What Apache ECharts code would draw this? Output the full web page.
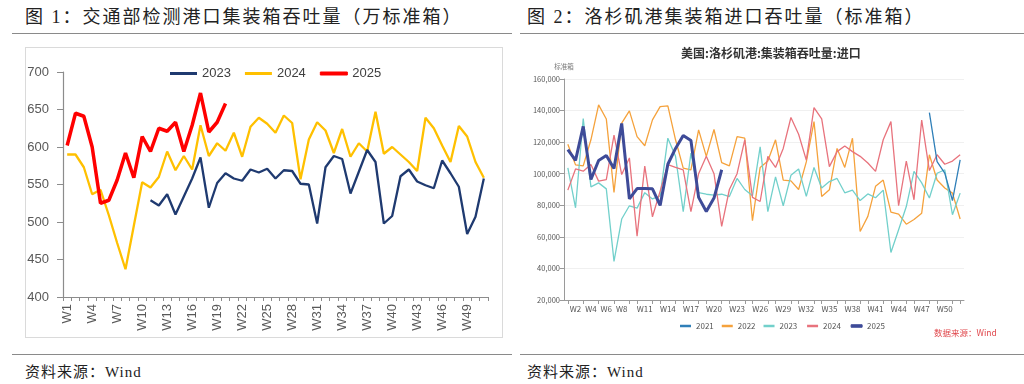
<!DOCTYPE html>
<html>
<head>
<meta charset="utf-8">
<script src="https://cdn.jsdelivr.net/npm/echarts@6/dist/echarts.min.js"></script>
<style>
  body { margin: 0; background: #fff; }
  #wrap { position: relative; width: 1024px; height: 384px; background: #fff; overflow: hidden; }
  .t { position: absolute; font-family: "Liberation Serif", "Noto Sans CJK SC", serif; font-size: 18px; line-height: 24px; letter-spacing: 2px; color: #222; white-space: nowrap; }
  .s { position: absolute; font-family: "Liberation Serif", "Noto Sans CJK SC", serif; font-size: 15px; line-height: 20px; letter-spacing: 1px; color: #222; white-space: nowrap; }
  .hl { position: absolute; height: 0; border-top: 1.5px solid #8a8a8a; }
  .box { position: absolute; border: 1px solid #dadada; box-sizing: border-box; }
  #chart { position: absolute; left: 0; top: 0; width: 1024px; height: 384px; }
</style>
</head>
<body>
<div id="wrap">
  <div class="t" style="left:25px;top:5px">图 1：交通部检测港口集装箱吞吐量（万标准箱）</div>
  <div class="t" style="left:527px;top:5px">图 2：洛杉矶港集装箱进口吞吐量（标准箱）</div>
  <div class="hl" style="left:12px;top:33px;width:500px"></div>
  <div class="hl" style="left:520px;top:33px;width:504px"></div>
  <div class="box" style="left:25px;top:47px;width:478px;height:291px"></div>
  <div class="hl" style="left:12px;top:354px;width:500px"></div>
  <div class="hl" style="left:520px;top:354px;width:504px"></div>
  <div class="s" style="left:25px;top:362px">资料来源：Wind</div>
  <div class="s" style="left:527px;top:362px">资料来源：Wind</div>
  <div id="chart"></div>
</div>
<script>
// ---------- Figure 1: weekly port container throughput (10k TEU) ----------
const weeks1 = [];
for (let i = 1; i <= 51; i++) weeks1.push('W' + i);

const port2023 = [null, null, null, null, null, null, null, null, null, null,
  529, 522, 537, 510, 534, 558, 586, 519, 552, 565,
  558, 555, 570, 566, 571, 558, 569, 568, 551, 550,
  498, 573, 588, 584, 538, 567, 596, 580, 498, 508,
  561, 570, 554, 549, 545, 582, 565, 547, 484, 507, 558];

const port2024 = [590, 590, 573, 537, 543, 509, 472, 437, 495, 553,
  546, 560, 594, 569, 588, 570, 629, 588, 605, 595,
  619, 587, 627, 639, 631, 619, 642, 632, 557, 610,
  633, 622, 592, 624, 587, 605, 594, 647, 591, 600,
  590, 580, 568, 639, 625, 602, 580, 628, 614, 580, 559];

const port2025 = [602, 645, 641, 600, 525, 529, 556, 592, 559, 614,
  594, 625, 621, 633, 594, 629, 672, 620, 633, 658];

const yTicks1 = { min: 400, max: 700, step: 50 };

// ---------- Figure 2: Port of Los Angeles container imports (TEU) ----------
const weeks2 = [];
for (let i = 1; i <= 52; i++) weeks2.push('W' + i);

const la2021 = [null, null, null, null, null, null, null, null, null, null,
  null, null, null, null, null, null, null, null, null, null,
  null, null, null, null, null, null, null, null, null, null,
  null, null, null, null, null, null, null, null, null, null,
  null, null, null, null, null, null, null,
  138700, 107700, 100400, 83000, 108800];

const la2022 = [118700, 105600, 105000, 121500, 143600, 134700, 88200, 132000, 139800, 123500,
  117700, 134100, 142500, 143000, 121500, 103500, 102500, 127800, 111000, 128000,
  107000, 105000, 123500, 122500, 70200, 104000, 108000, 121500, 96000, 95500,
  90000, 107500, 133000, 85600, 89800, 116000, 104000, 122500, 63400, 73000,
  92000, 96000, 75700, 74400, 68000, 71000, 75000, 112000, 96000, 91000, 87700, 71300];

const la2023 = [103700, 78400, 135000, 91700, 94200, 90400, 44500, 71300, 79700, 78200,
  88000, 84000, 86000, 122500, 111000, 76000, 113000, 88000, 87000, 86500,
  87000, 85500, 97000, 90000, 86000, 117000, 76000, 98000, 79700, 99000,
  103000, 85600, 104000, 91000, 95000, 97000, 87900, 89600, 83000, 87200,
  84800, 89600, 50100, 64500, 79200, 101500, 94200, 84600, 100300, 102500, 74000, 87700];

const la2024 = [89600, 103000, 101600, 105800, 95300, 96300, 124400, 99500, 110000, 60500,
  104800, 72700, 89000, 105800, 104000, 102500, 76000, 100000, 111000, 100000,
  66600, 90000, 100000, 121500, 85000, 82400, 111000, 104000, 116000, 135600,
  125000, 108600, 141900, 134700, 104500, 114000, 117500, 114000, 111000, 106800,
  101500, 121500, 133000, 79700, 108000, 83500, 134000, 102000, 112000, 106000, 108000, 112000];

const la2025 = [115300, 108400, 130000, 96300, 108400, 111500, 103300, 131800, 84000, 90600,
  90600, 90400, 79900, 106000, 116000, 124200, 121000, 85000, 76100, 84600, 102500];

const yTicks2 = { min: 20000, max: 160000, step: 20000 };

// label positions on figure 2's axis: W2,W4,W6,W8 then every third week from W11
function isLabel2(i) {
  if (i <= 7) return i % 2 === 1;
  return i >= 10 && (i - 10) % 3 === 0;
}

const chart = echarts.init(document.getElementById('chart'), null, { renderer: 'canvas' });

const sans = '"Liberation Sans", Arial, sans-serif';
const cjk = '"Noto Sans CJK SC", "Noto Sans", sans-serif';

const c21 = '#2f7fb8', c22 = '#f5a23c', c23 = '#72d0cb', c24 = '#e8737d', c25 = '#3e4b98';

const option = {
  animation: false,
  backgroundColor: 'transparent',
  grid: [
    { left: 63, top: 72, width: 425, height: 225, containLabel: false },
    { left: 564, top: 79, width: 400, height: 221, containLabel: false }
  ],
  legend: [
    {
      data: [
        { name: '2023', icon: 'rect', itemStyle: { color: '#1f3a70' } },
        { name: '2024', icon: 'rect', itemStyle: { color: '#ffc000' } },
        { name: '2025', icon: 'rect', itemStyle: { color: '#ff0000', borderColor: '#ff0000', borderWidth: 1 } }
      ],
      left: 165, top: 62,
      itemWidth: 27, itemHeight: 3, itemGap: 14,
      textStyle: { fontSize: 13, color: '#404040', fontFamily: sans }
    },
    {
      data: [
        { name: '2021', icon: 'rect', itemStyle: { color: c21 } },
        { name: '2022', icon: 'rect', itemStyle: { color: c22 } },
        { name: '2023 ', icon: 'rect', itemStyle: { color: c23 } },
        { name: '2024 ', icon: 'rect', itemStyle: { color: c24 } },
        { name: '2025 ', icon: 'rect', itemStyle: { color: c25, borderColor: c25, borderWidth: 1 } }
      ],
      left: 675, top: 317,
      itemWidth: 11, itemHeight: 2.5, itemGap: 8,
      textStyle: { fontSize: 8, color: '#555', fontFamily: cjk }
    }
  ],
  xAxis: [
    {
      gridIndex: 0, type: 'category', data: weeks1, boundaryGap: true,
      axisLine: { lineStyle: { color: '#8c8c8c', width: 1.2 } },
      axisTick: { show: true, interval: 0, length: 4, lineStyle: { color: '#8c8c8c' } },
      axisLabel: { interval: 2, rotate: 90, fontSize: 13, color: '#595959', margin: 7, fontFamily: sans }
    },
    {
      gridIndex: 1, type: 'category', data: weeks2, boundaryGap: true,
      axisLine: { lineStyle: { color: '#9a9a9a', width: 1 } },
      axisTick: { show: true, alignWithLabel: true, length: 4, interval: (i) => !isLabel2(i), lineStyle: { color: '#9a9a9a' } },
      axisLabel: { interval: (i) => isLabel2(i), fontSize: 8, color: '#555', margin: 5, fontFamily: cjk }
    }
  ],
  yAxis: [
    {
      gridIndex: 0, type: 'value', min: yTicks1.min, max: yTicks1.max, interval: yTicks1.step,
      axisLine: { show: true, lineStyle: { color: '#8c8c8c', width: 1.2 } },
      axisTick: { show: true, length: 6, lineStyle: { color: '#8c8c8c' } },
      splitLine: { show: false },
      axisLabel: { fontSize: 13, color: '#595959', margin: 14, fontFamily: sans }
    },
    {
      gridIndex: 1, type: 'value', min: yTicks2.min, max: yTicks2.max, interval: yTicks2.step,
      name: '标准箱', nameGap: 9,
      nameTextStyle: { fontSize: 6.5, color: '#777', fontFamily: cjk },
      axisLine: { show: true, lineStyle: { color: '#9a9a9a' } },
      axisTick: { show: true, length: 4, lineStyle: { color: '#9a9a9a' } },
      splitLine: { show: true, lineStyle: { color: '#ececec', width: 0.8 } },
      axisLabel: {
        fontSize: 7.5, color: '#555', margin: 4, fontFamily: cjk,
        formatter: (v) => v.toLocaleString('en-US')
      }
    }
  ],
  graphic: [
    {
      type: 'text', left: 765 - 84, top: 47,
      style: { text: '美国:洛杉矶港:集装箱吞吐量:进口', fill: '#333', font: 'bold 12px "Noto Sans CJK SC", sans-serif' }
    },
    {
      type: 'text', left: 934, top: 329,
      style: { text: '数据来源：Wind', fill: '#e0474c', font: '8.5px "Noto Sans CJK SC", sans-serif' }
    }
  ],
  series: [
    { name: '2023', type: 'line', xAxisIndex: 0, yAxisIndex: 0, data: port2023, symbol: 'none', lineStyle: { color: '#1f3a70', width: 2.3 }, itemStyle: { color: '#1f3a70' }, z: 3 },
    { name: '2024', type: 'line', xAxisIndex: 0, yAxisIndex: 0, data: port2024, symbol: 'none', lineStyle: { color: '#ffc000', width: 2.3 }, itemStyle: { color: '#ffc000' }, z: 2 },
    { name: '2025', type: 'line', xAxisIndex: 0, yAxisIndex: 0, data: port2025, symbol: 'none', lineStyle: { color: '#ff0000', width: 3.5 }, itemStyle: { color: '#ff0000' }, z: 4 },

    { name: '2021', type: 'line', xAxisIndex: 1, yAxisIndex: 1, data: la2021, symbol: 'none', lineStyle: { color: c21, width: 1.3 }, itemStyle: { color: c21 }, z: 3 },
    { name: '2022', type: 'line', xAxisIndex: 1, yAxisIndex: 1, data: la2022, symbol: 'none', lineStyle: { color: c22, width: 1.3 }, itemStyle: { color: c22 }, z: 2 },
    { name: '2023 ', type: 'line', xAxisIndex: 1, yAxisIndex: 1, data: la2023, symbol: 'none', lineStyle: { color: c23, width: 1.3 }, itemStyle: { color: c23 }, z: 2 },
    { name: '2024 ', type: 'line', xAxisIndex: 1, yAxisIndex: 1, data: la2024, symbol: 'none', lineStyle: { color: c24, width: 1.3 }, itemStyle: { color: c24 }, z: 2 },
    { name: '2025 ', type: 'line', xAxisIndex: 1, yAxisIndex: 1, data: la2025, symbol: 'none', lineStyle: { color: c25, width: 3 }, itemStyle: { color: c25 }, z: 5 }
  ]
};
chart.setOption(option);
</script>
</body>
</html>
